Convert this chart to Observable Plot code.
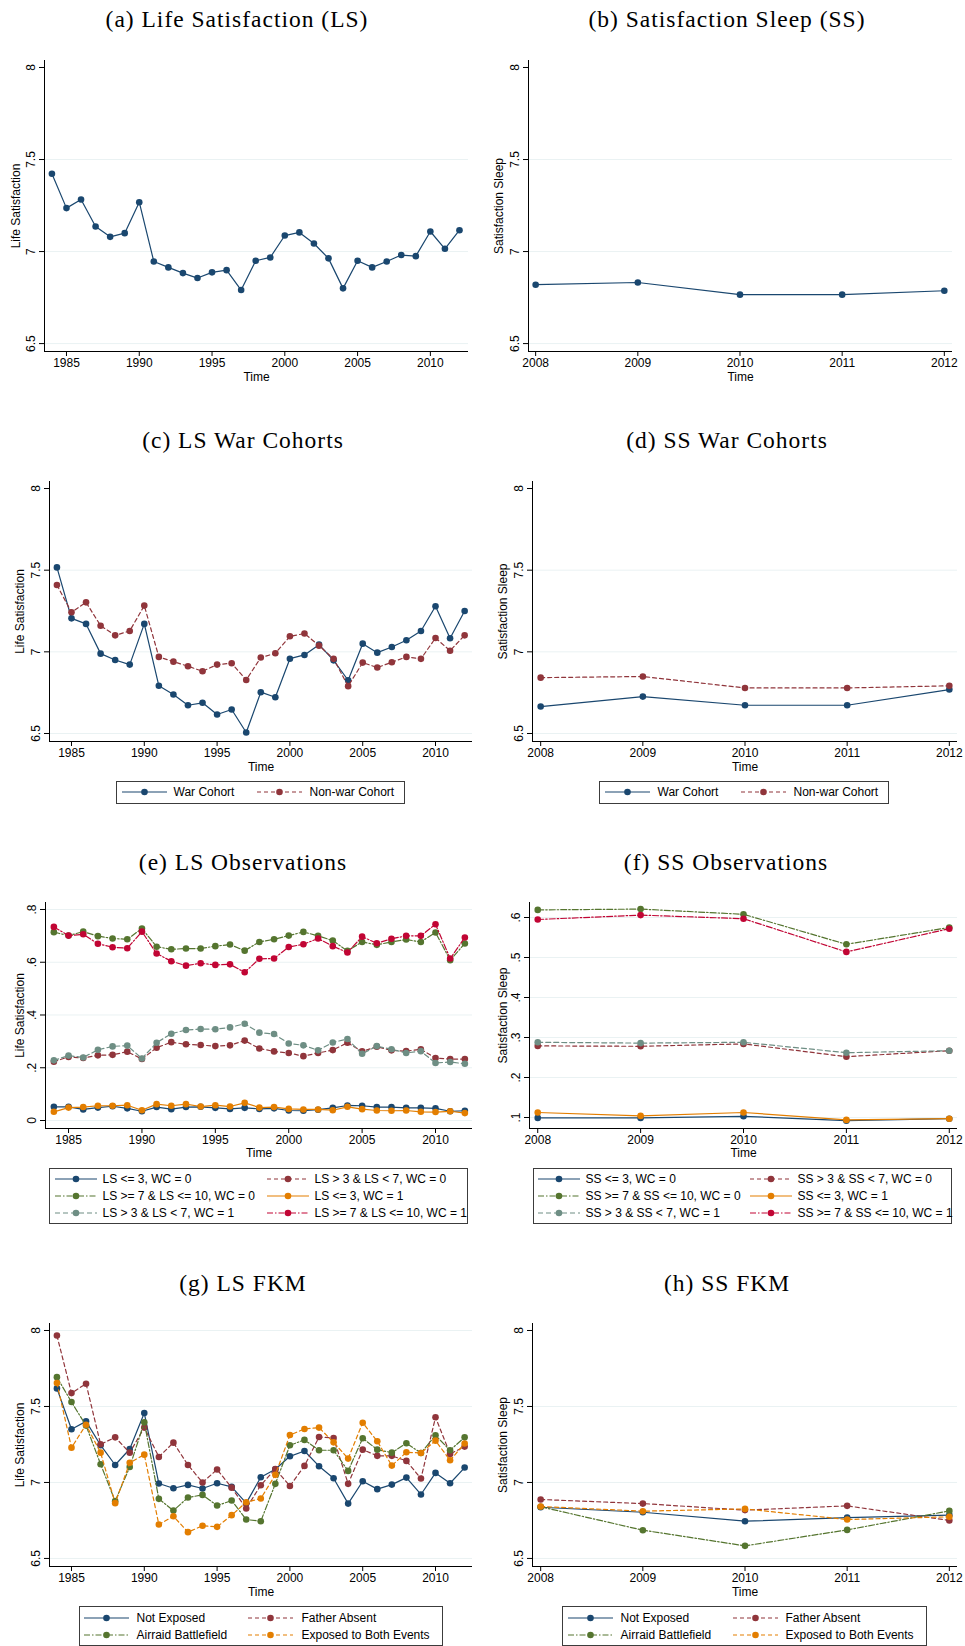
<!DOCTYPE html>
<html>
<head>
<meta charset="utf-8">
<script src="https://cdn.jsdelivr.net/npm/d3@7"></script>
<script src="https://cdn.jsdelivr.net/npm/@observablehq/plot@0.6"></script>
<style>
  html, body { margin: 0; padding: 0; background: #fff; }
  body { position: relative; width: 965px; height: 1646px; overflow: hidden; }
  .title { position: absolute; font-family: "Liberation Serif", "DejaVu Serif", serif; font-size: 23.5px; line-height: 23.5px; letter-spacing: 1px; white-space: nowrap; transform: translateX(-50%); color: #000; }
  .panel { position: absolute; }
  .panel svg { display: block; background: transparent; max-width: none; }
  .legend { position: absolute; box-sizing: border-box; border: 1.5px solid #3c3c3c; font-family: "Liberation Sans", Arial, sans-serif; font-size: 12px; color: #000; overflow: visible; }
  .legend svg { position: absolute; overflow: visible; }
  .legend span { position: absolute; white-space: nowrap; transform: translateY(-50%); line-height: 14px; }
</style>
</head>
<body>
<script>
// ---------------- data ----------------
const lsYears = [1984,1985,1986,1987,1988,1989,1990,1991,1992,1993,1994,1995,1996,1997,1998,1999,2000,2001,2002,2003,2004,2005,2006,2007,2008,2009,2010,2011,2012];
const ssYears = [2008,2009,2010,2011,2012];
const lsTicksX = [1985,1990,1995,2000,2005,2010];
const ssTicksX = [2008,2009,2010,2011,2012];
const levelTicksY = [6.5,7,7.5,8];
const lsObsTicksY = [0,0.2,0.4,0.6,0.8];
const ssObsTicksY = [0.1,0.2,0.3,0.4,0.5,0.6];

// (a) Life satisfaction
const lsMean = [7.423,7.236,7.283,7.136,7.080,7.100,7.268,6.946,6.914,6.883,6.856,6.887,6.899,6.791,6.950,6.968,7.087,7.104,7.044,6.963,6.800,6.950,6.914,6.946,6.981,6.975,7.109,7.015,7.116];
// (b) Satisfaction sleep
const ssMean = [6.820,6.832,6.766,6.766,6.787];
// (c) LS war cohorts
const lsWar    = [7.517,7.205,7.171,6.989,6.950,6.922,7.171,6.792,6.739,6.673,6.688,6.616,6.647,6.506,6.753,6.722,6.958,6.981,7.044,6.948,6.826,7.050,6.995,7.030,7.071,7.128,7.279,7.083,7.250];
const lsNonWar = [7.409,7.242,7.303,7.160,7.101,7.128,7.283,6.969,6.940,6.912,6.881,6.922,6.930,6.828,6.965,6.991,7.095,7.112,7.038,6.957,6.790,6.934,6.904,6.936,6.969,6.957,7.085,7.007,7.101];
// (d) SS war cohorts
const ssWar    = [6.665,6.726,6.673,6.673,6.769];
const ssNonWar = [6.842,6.849,6.779,6.779,6.792];
// (e) LS observations (shares)
const lsLowWC0  = [.052,.052,.042,.049,.054,.046,.035,.051,.043,.051,.052,.048,.044,.048,.044,.046,.038,.037,.041,.048,.057,.056,.051,.051,.048,.048,.046,.035,.037];
const lsMidWC0  = [.223,.241,.237,.247,.249,.261,.233,.276,.297,.289,.286,.282,.285,.303,.273,.262,.256,.244,.256,.267,.295,.262,.280,.266,.263,.270,.237,.233,.233];
const lsHighWC0 = [.714,.701,.716,.699,.690,.687,.728,.659,.649,.652,.652,.661,.667,.644,.677,.687,.701,.715,.700,.682,.643,.677,.666,.677,.686,.677,.713,.608,.671];
const lsLowWC1  = [.033,.049,.051,.056,.056,.058,.039,.062,.056,.062,.053,.058,.053,.067,.049,.051,.044,.042,.042,.039,.052,.043,.038,.037,.038,.033,.032,.035,.028];
const lsMidWC1  = [.228,.246,.239,.268,.281,.284,.235,.295,.329,.343,.347,.346,.353,.367,.333,.328,.292,.285,.266,.296,.309,.253,.282,.270,.256,.263,.218,.222,.215];
const lsHighWC1 = [.734,.701,.706,.670,.657,.653,.716,.633,.604,.587,.596,.590,.592,.562,.613,.614,.658,.668,.690,.661,.637,.697,.672,.689,.700,.700,.744,.614,.694];
// (f) SS observations (shares)
const ssLowWC0  = [.099,.099,.103,.092,.097];
const ssMidWC0  = [.279,.278,.284,.252,.267];
const ssHighWC0 = [.619,.621,.608,.533,.575];
const ssLowWC1  = [.1125,.104,.1125,.094,.097];
const ssMidWC1  = [.288,.286,.288,.262,.267];
const ssHighWC1 = [.595,.606,.597,.514,.572];
// (g) LS FKM
const lsNotExp  = [7.619,7.350,7.402,7.245,7.115,7.220,7.457,6.993,6.962,6.984,6.960,6.995,6.971,6.864,7.034,7.087,7.172,7.207,7.107,7.028,6.861,7.008,6.956,6.986,7.032,6.921,7.063,6.995,7.098];
const lsFather  = [7.967,7.588,7.650,7.251,7.297,7.196,7.361,7.168,7.262,7.115,7.000,7.085,6.966,6.829,6.982,7.089,6.977,7.109,7.299,7.293,6.991,7.216,7.175,7.175,7.142,7.026,7.429,7.188,7.236];
const lsAirraid = [7.693,7.529,7.374,7.120,6.877,7.102,7.396,6.892,6.815,6.901,6.918,6.848,6.881,6.756,6.745,6.991,7.245,7.280,7.212,7.212,7.076,7.291,7.216,7.196,7.258,7.194,7.310,7.212,7.297];
const lsBoth    = [7.654,7.229,7.380,7.196,6.864,7.129,7.183,6.723,6.778,6.673,6.715,6.708,6.785,6.870,6.894,7.050,7.312,7.352,7.361,7.264,7.157,7.393,7.271,7.111,7.199,7.194,7.275,7.146,7.256];
// (h) SS FKM
const ssNotExp  = [6.837,6.804,6.745,6.769,6.785];
const ssFather  = [6.888,6.861,6.818,6.846,6.750];
const ssAirraid = [6.840,6.686,6.583,6.688,6.813];
const ssBoth    = [6.842,6.811,6.826,6.756,6.774];

const cohortLabels = ["War Cohort", "Non-war Cohort"];
const lsObsLabels = ["LS <= 3, WC = 0", "LS > 3 & LS < 7, WC = 0", "LS >= 7 & LS <= 10, WC = 0", "LS <= 3, WC = 1", "LS > 3 & LS < 7, WC = 1", "LS >= 7 & LS <= 10, WC = 1"];
const ssObsLabels = ["SS <= 3, WC = 0", "SS > 3 & SS < 7, WC = 0", "SS >= 7 & SS <= 10, WC = 0", "SS <= 3, WC = 1", "SS > 3 & SS < 7, WC = 1", "SS >= 7 & SS <= 10, WC = 1"];
const fkmLabels = ["Not Exposed", "Father Absent", "Airraid Battlefield", "Exposed to Both Events"];

// ---------------- styles ----------------
const NAVY = "#1a476f", MAROON = "#90353b", GREEN = "#55752f", ORANGE = "#e37e00", TEAL = "#6e8e84", CRAN = "#c10534";
const DASH = "4,3", DASHDOT = "6,2,1.5,2", LONGDASH = "5,3";
const FONT = "'Liberation Sans', Arial, sans-serif";

function addTitle(text, cx, top) {
  const d = document.createElement("div");
  d.className = "title";
  d.textContent = text;
  d.style.left = cx + "px";
  d.style.top = top + "px";
  document.body.appendChild(d);
}

const fmtLevel = d => String(d);
const fmtShare = d => d === 0 ? "0" : String(+d.toFixed(1)).replace(/^0/, "");

function addPanel(o) {
  const marks = [];
  marks.push(Plot.ruleY(o.grid, {y: d => d, stroke: "#eaf2f3", strokeWidth: 1}));
  for (const s of o.series) {
    const data = o.x.map((x, i) => ({x, y: s.values[i]}));
    marks.push(Plot.line(data, {x: "x", y: "y", stroke: s.color, strokeWidth: 1.2, strokeDasharray: s.dash || undefined}));
    marks.push(Plot.dot(data, {x: "x", y: "y", r: 3.3, fill: s.color, stroke: "none"}));
  }
  marks.push(Plot.ruleX([o.xDomain[0]], {x: d => d, stroke: "#000", strokeWidth: 1}));
  marks.push(Plot.ruleY([o.yDomain[0]], {y: d => d, stroke: "#000", strokeWidth: 1}));
  marks.push(Plot.axisX({ticks: o.xTicks, tickSize: 5, tickPadding: 2, tickFormat: d => String(d), label: null, stroke: "#000", fill: "#000"}));
  marks.push(Plot.axisY({ticks: o.yTicks, tickSize: 5, tickFormat: () => "", label: null, stroke: "#000"}));
  marks.push(Plot.text(o.yTicks, {y: d => d, text: o.yFmt, frameAnchor: "left", dx: -10, rotate: -90, textAnchor: "middle", lineAnchor: "bottom", fontSize: 12, fill: "#000"}));
  marks.push(Plot.text([o.yLabel], {text: d => d, frameAnchor: "left", dx: o.yLabelDx, rotate: -90, textAnchor: "middle", lineAnchor: "middle", fontSize: 12, fill: "#000"}));
  marks.push(Plot.text(["Time"], {text: d => d, frameAnchor: "bottom", dy: o.timeDy, lineAnchor: "top", fontSize: 12, fill: "#000"}));
  const svg = Plot.plot({
    width: o.width, height: o.height,
    marginLeft: o.mLeft, marginRight: o.mRight, marginTop: o.mTop, marginBottom: o.mBottom,
    x: {type: "linear", domain: o.xDomain},
    y: {type: "linear", domain: o.yDomain},
    style: {fontFamily: FONT, fontSize: "12px", color: "#000", background: "transparent", overflow: "visible"},
    marks
  });
  const div = document.createElement("div");
  div.className = "panel";
  div.style.left = o.left + "px";
  div.style.top = o.top + "px";
  div.style.width = o.width + "px";
  div.style.height = o.height + "px";
  div.appendChild(svg);
  document.body.appendChild(div);
}

function addLegend(box, cols, rows, swW, items) {
  const d = document.createElement("div");
  d.className = "legend";
  Object.assign(d.style, {left: box.left + "px", top: box.top + "px", width: box.width + "px", height: box.height + "px"});
  const ns = "http://www.w3.org/2000/svg";
  items.forEach((it, i) => {
    const r = rows[Math.floor(i / 2)], c = cols[i % 2];
    const sv = document.createElementNS(ns, "svg");
    sv.setAttribute("width", swW); sv.setAttribute("height", 10);
    sv.style.left = (c[0] - 1.5) + "px"; sv.style.top = (r - 1.5 - 5) + "px";
    const ln = document.createElementNS(ns, "line");
    ln.setAttribute("x1", 0); ln.setAttribute("x2", swW); ln.setAttribute("y1", 5); ln.setAttribute("y2", 5);
    ln.setAttribute("stroke", it.color); ln.setAttribute("stroke-width", 1.2);
    if (it.dash) ln.setAttribute("stroke-dasharray", it.dash);
    const ci = document.createElementNS(ns, "circle");
    ci.setAttribute("cx", swW / 2); ci.setAttribute("cy", 5); ci.setAttribute("r", 3.3); ci.setAttribute("fill", it.color);
    sv.appendChild(ln); sv.appendChild(ci);
    d.appendChild(sv);
    const t = document.createElement("span");
    t.textContent = it.label;
    t.style.left = (c[1] - 1.5) + "px"; t.style.top = (r - 1.5) + "px";
    d.appendChild(t);
  });
  document.body.appendChild(d);
}

// ---------------- titles ----------------
addTitle("(a) Life Satisfaction (LS)", 237, 8);
addTitle("(b) Satisfaction Sleep (SS)", 727, 8);
addTitle("(c) LS War Cohorts", 243, 429);
addTitle("(d) SS War Cohorts", 727, 429);
addTitle("(e) LS Observations", 243, 851);
addTitle("(f) SS Observations", 726, 851);
addTitle("(g) LS FKM", 243, 1272);
addTitle("(h) SS FKM", 727, 1272);

// ---------------- panels ----------------
const lsGrid = [6.5, 7, 7.5];
// (a)
addPanel({left: 0, top: 45, width: 480, height: 345, mLeft: 44, mRight: 12, mTop: 15, mBottom: 39,
  xDomain: [1983.49, 2012.62], yDomain: [6.457, 8.038], x: lsYears, xTicks: lsTicksX,
  yTicks: levelTicksY, yFmt: fmtLevel, grid: lsGrid, yLabel: "Life Satisfaction", yLabelDx: -28, timeDy: 21,
  series: [{values: lsMean, color: NAVY}]});
// (b)
addPanel({left: 480, top: 45, width: 485, height: 345, mLeft: 48, mRight: 13, mTop: 15, mBottom: 39,
  xDomain: [2007.93, 2012.08], yDomain: [6.457, 8.038], x: ssYears, xTicks: ssTicksX,
  yTicks: levelTicksY, yFmt: fmtLevel, grid: lsGrid, yLabel: "Satisfaction Sleep", yLabelDx: -29, timeDy: 21,
  series: [{values: ssMean, color: NAVY}]});
// (c)
addPanel({left: 0, top: 466, width: 480, height: 310, mLeft: 49, mRight: 8, mTop: 15, mBottom: 35,
  xDomain: [1983.49, 2012.54], yDomain: [6.451, 8.043], x: lsYears, xTicks: lsTicksX,
  yTicks: levelTicksY, yFmt: fmtLevel, grid: lsGrid, yLabel: "Life Satisfaction", yLabelDx: -29, timeDy: 21,
  series: [{values: lsWar, color: NAVY}, {values: lsNonWar, color: MAROON, dash: DASH}]});
// (d)
addPanel({left: 480, top: 466, width: 485, height: 310, mLeft: 52, mRight: 8, mTop: 15, mBottom: 35,
  xDomain: [2007.92, 2012.08], yDomain: [6.451, 8.043], x: ssYears, xTicks: ssTicksX,
  yTicks: levelTicksY, yFmt: fmtLevel, grid: lsGrid, yLabel: "Satisfaction Sleep", yLabelDx: -29, timeDy: 21,
  series: [{values: ssWar, color: NAVY}, {values: ssNonWar, color: MAROON, dash: DASH}]});
// (e)
addPanel({left: 0, top: 887, width: 480, height: 276, mLeft: 45, mRight: 8, mTop: 15, mBottom: 35,
  xDomain: [1983.43, 2012.52], yDomain: [-0.0303, 0.8265], x: lsYears, xTicks: lsTicksX,
  yTicks: lsObsTicksY, yFmt: fmtShare, grid: lsObsTicksY, yLabel: "Life Satisfaction", yLabelDx: -25, timeDy: 20,
  series: [
    {values: lsLowWC0, color: NAVY},
    {values: lsMidWC0, color: MAROON, dash: DASH},
    {values: lsHighWC0, color: GREEN, dash: DASHDOT},
    {values: lsLowWC1, color: ORANGE},
    {values: lsMidWC1, color: TEAL, dash: LONGDASH},
    {values: lsHighWC1, color: CRAN, dash: DASHDOT}]});
// (f)
addPanel({left: 480, top: 887, width: 485, height: 276, mLeft: 49, mRight: 8, mTop: 15, mBottom: 35,
  xDomain: [2007.92, 2012.08], yDomain: [0.0725, 0.6375], x: ssYears, xTicks: ssTicksX,
  yTicks: ssObsTicksY, yFmt: fmtShare, grid: ssObsTicksY, yLabel: "Satisfaction Sleep", yLabelDx: -26, timeDy: 20,
  series: [
    {values: ssLowWC0, color: NAVY},
    {values: ssMidWC0, color: MAROON, dash: DASH},
    {values: ssHighWC0, color: GREEN, dash: DASHDOT},
    {values: ssLowWC1, color: ORANGE},
    {values: ssMidWC1, color: TEAL, dash: LONGDASH},
    {values: ssHighWC1, color: CRAN, dash: DASHDOT}]});
// (g)
addPanel({left: 0, top: 1308, width: 480, height: 290, mLeft: 49, mRight: 8, mTop: 15, mBottom: 32,
  xDomain: [1983.49, 2012.54], yDomain: [6.447, 8.046], x: lsYears, xTicks: lsTicksX,
  yTicks: levelTicksY, yFmt: fmtLevel, grid: levelTicksY, yLabel: "Life Satisfaction", yLabelDx: -29, timeDy: 21,
  series: [
    {values: lsNotExp, color: NAVY},
    {values: lsFather, color: MAROON, dash: DASH},
    {values: lsAirraid, color: GREEN, dash: DASHDOT},
    {values: lsBoth, color: ORANGE, dash: DASH}]});
// (h)
addPanel({left: 480, top: 1308, width: 485, height: 290, mLeft: 52, mRight: 8, mTop: 15, mBottom: 32,
  xDomain: [2007.92, 2012.08], yDomain: [6.447, 8.046], x: ssYears, xTicks: ssTicksX,
  yTicks: levelTicksY, yFmt: fmtLevel, grid: lsGrid, yLabel: "Satisfaction Sleep", yLabelDx: -29, timeDy: 21,
  series: [
    {values: ssNotExp, color: NAVY},
    {values: ssFather, color: MAROON, dash: DASH},
    {values: ssAirraid, color: GREEN, dash: DASHDOT},
    {values: ssBoth, color: ORANGE, dash: DASH}]});

// ---------------- legends ----------------
const cohortItems = [{label: cohortLabels[0], color: NAVY}, {label: cohortLabels[1], color: MAROON, dash: DASH}];
addLegend({left: 116, top: 781, width: 289, height: 23}, [[6, 58], [141, 194]], [11.5], 45, cohortItems);
addLegend({left: 599, top: 781, width: 290, height: 23}, [[6, 59], [142, 195]], [11.5], 45, cohortItems);

const obsStyles = [{color: NAVY}, {color: MAROON, dash: DASH}, {color: GREEN, dash: DASHDOT}, {color: ORANGE}, {color: TEAL, dash: LONGDASH}, {color: CRAN, dash: DASHDOT}];
addLegend({left: 49, top: 1168, width: 419, height: 56}, [[6, 54], [218, 266]], [11, 28.5, 45.5], 42,
  lsObsLabels.map((l, i) => ({label: l, ...obsStyles[i]})));
addLegend({left: 533, top: 1168, width: 419, height: 56}, [[5, 53], [217, 265]], [11, 28.5, 45.5], 42,
  ssObsLabels.map((l, i) => ({label: l, ...obsStyles[i]})));

const fkmStyles = [{color: NAVY}, {color: MAROON, dash: DASH}, {color: GREEN, dash: DASHDOT}, {color: ORANGE, dash: DASH}];
addLegend({left: 79, top: 1606, width: 364, height: 40}, [[5, 58], [169, 223]], [12, 29], 45,
  fkmLabels.map((l, i) => ({label: l, ...fkmStyles[i]})));
addLegend({left: 562, top: 1606, width: 365, height: 40}, [[6, 59], [171, 224]], [12, 29], 45,
  fkmLabels.map((l, i) => ({label: l, ...fkmStyles[i]})));
</script>
</body>
</html>
